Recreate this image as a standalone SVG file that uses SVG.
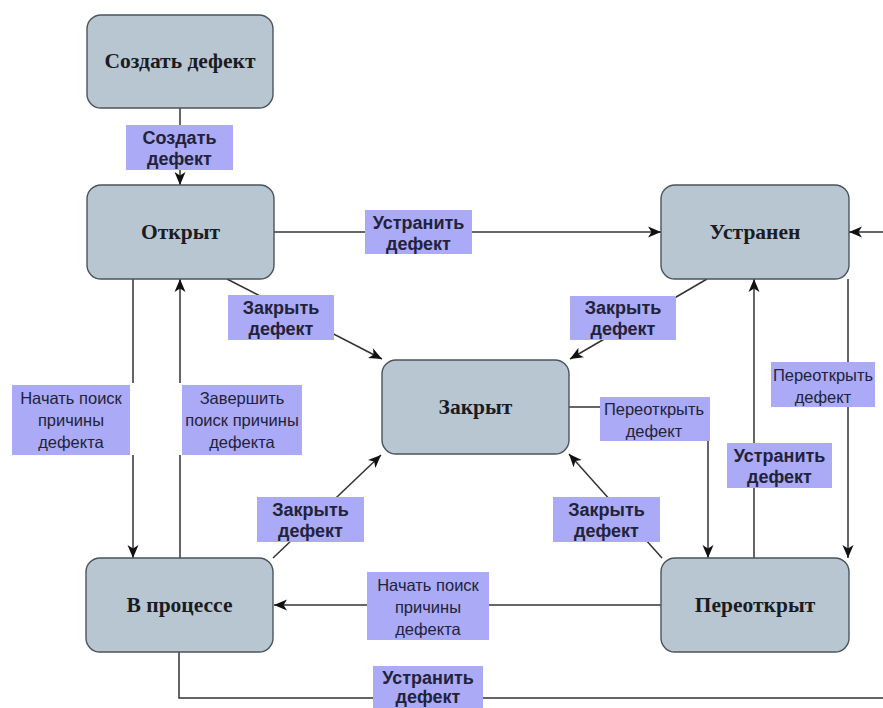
<svg xmlns="http://www.w3.org/2000/svg" width="883" height="708" viewBox="0 0 883 708">
  <style>
    .node rect { fill: #b8c6d2; stroke: #4a545c; stroke-width: 1.4; }
    .node text { font-family: "Liberation Serif", "Times New Roman", serif; font-weight: bold; font-size: 21.5px; fill: #1b1b22; text-anchor: middle; }
    .edge { fill: none; stroke: #333333; stroke-width: 1.5; }
    .lbl rect { fill: #aaaaf6; }
    .lbl text { font-family: "Liberation Sans", Arial, sans-serif; fill: #22223a; text-anchor: middle; }
    .lbl.b text { font-weight: bold; font-size: 18px; }
    .lbl.r text { font-size: 16.5px; }
  </style>
  <defs>
    <marker id="arrow" markerUnits="userSpaceOnUse" markerWidth="14" markerHeight="12" viewBox="0 0 14 12" refX="13" refY="6" orient="auto">
      <path d="M0,0.5 L13,6 L0,11.5 L3.5,6 Z" fill="#111111"/>
    </marker>
  </defs>

  <rect x="0" y="0" width="883" height="708" fill="#ffffff"/>

  <!-- connectors -->
  <g id="connectors">
    <path class="edge" d="M180,108 V185" marker-end="url(#arrow)"/>
    <path class="edge" d="M274,232 H661" marker-end="url(#arrow)"/>
    <path class="edge" d="M227,279 L382,359" marker-end="url(#arrow)"/>
    <path class="edge" d="M707,279 L570,359" marker-end="url(#arrow)"/>
    <path class="edge" d="M133,279 V383 M133,455 V558" marker-end="url(#arrow)"/>
    <path class="edge" d="M180,558 V455 M180,383 V279" marker-end="url(#arrow)"/>
    <path class="edge" d="M569,407 H708 V558" marker-end="url(#arrow)"/>
    <path class="edge" d="M754,558 V279" marker-end="url(#arrow)"/>
    <path class="edge" d="M848,279 V558" marker-end="url(#arrow)"/>
    <path class="edge" d="M273,558 L381,455" marker-end="url(#arrow)"/>
    <path class="edge" d="M662,558 L569,454" marker-end="url(#arrow)"/>
    <path class="edge" d="M661,605 H274" marker-end="url(#arrow)"/>
    <path class="edge" d="M179,652 V698 H900 V232 H849" marker-end="url(#arrow)"/>
  </g>

  <!-- states -->
  <g id="create" class="node">
    <rect x="87" y="15" width="186" height="93" rx="14"/>
    <text x="180" y="68">Создать дефект</text>
  </g>
  <g id="open" class="node">
    <rect x="87" y="185" width="187" height="94" rx="14"/>
    <text x="180.5" y="239">Открыт</text>
  </g>
  <g id="fixed" class="node">
    <rect x="661" y="185" width="188" height="94" rx="14"/>
    <text x="755" y="239">Устранен</text>
  </g>
  <g id="closed" class="node">
    <rect x="382" y="360" width="187" height="94" rx="14"/>
    <text x="475.5" y="414">Закрыт</text>
  </g>
  <g id="in-progress" class="node">
    <rect x="86" y="558" width="187" height="94" rx="14"/>
    <text x="179.5" y="612">В процессе</text>
  </g>
  <g id="reopened" class="node">
    <rect x="661" y="558" width="188" height="94" rx="14"/>
    <text x="755" y="612">Переоткрыт</text>
  </g>

  <!-- transition labels -->
  <g id="lbl-create" class="lbl b">
    <rect x="126" y="125" width="107" height="45"/>
    <text x="179.5" y="144">Создать</text>
    <text x="179.5" y="165">дефект</text>
  </g>
  <g id="lbl-open-fix" class="lbl b">
    <rect x="365" y="210" width="107" height="44"/>
    <text x="418.5" y="229">Устранить</text>
    <text x="418.5" y="250">дефект</text>
  </g>
  <g id="lbl-open-close" class="lbl b">
    <rect x="228" y="295" width="106" height="45"/>
    <text x="281" y="314">Закрыть</text>
    <text x="281" y="335">дефект</text>
  </g>
  <g id="lbl-fixed-close" class="lbl b">
    <rect x="570" y="296" width="106" height="44"/>
    <text x="623" y="314">Закрыть</text>
    <text x="623" y="335">дефект</text>
  </g>
  <g id="lbl-open-progress" class="lbl r">
    <rect x="12" y="385" width="118" height="70"/>
    <text x="71" y="404">Начать поиск</text>
    <text x="71" y="426">причины</text>
    <text x="71" y="448">дефекта</text>
  </g>
  <g id="lbl-progress-open" class="lbl r">
    <rect x="182" y="385" width="120" height="70"/>
    <text x="242" y="404">Завершить</text>
    <text x="242" y="426">поиск причины</text>
    <text x="242" y="448">дефекта</text>
  </g>
  <g id="lbl-closed-reopen" class="lbl r">
    <rect x="600" y="397" width="110" height="44"/>
    <text x="654" y="415">Переоткрыть</text>
    <text x="654" y="437">дефект</text>
  </g>
  <g id="lbl-reopen-fix" class="lbl b">
    <rect x="727" y="443" width="105" height="45"/>
    <text x="779.5" y="462">Устранить</text>
    <text x="779.5" y="483">дефект</text>
  </g>
  <g id="lbl-fixed-reopen" class="lbl r">
    <rect x="771" y="362" width="104" height="45"/>
    <text x="823" y="381">Переоткрыть</text>
    <text x="823" y="403">дефект</text>
  </g>
  <g id="lbl-progress-close" class="lbl b">
    <rect x="257" y="497" width="107" height="45"/>
    <text x="310.5" y="516">Закрыть</text>
    <text x="310.5" y="537">дефект</text>
  </g>
  <g id="lbl-reopen-close" class="lbl b">
    <rect x="553" y="497" width="107" height="45"/>
    <text x="606.5" y="516">Закрыть</text>
    <text x="606.5" y="537">дефект</text>
  </g>
  <g id="lbl-reopen-progress" class="lbl r">
    <rect x="367" y="572" width="122" height="68"/>
    <text x="428" y="591">Начать поиск</text>
    <text x="428" y="613">причины</text>
    <text x="428" y="635">дефекта</text>
  </g>
  <g id="lbl-progress-fix" class="lbl b">
    <rect x="373" y="666" width="110" height="42"/>
    <text x="428" y="684">Устранить</text>
    <text x="428" y="703">дефект</text>
  </g>
</svg>
